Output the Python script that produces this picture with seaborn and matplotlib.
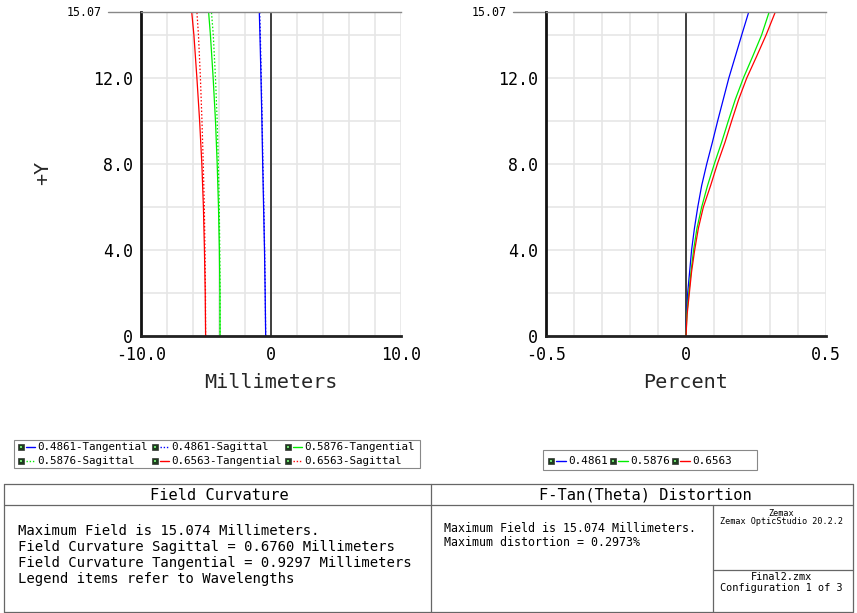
import numpy as np
import pandas as pd
import matplotlib
matplotlib.use("Agg")
import matplotlib.pyplot as plt
import matplotlib.transforms as mtransforms
from matplotlib.patches import Rectangle
from matplotlib.lines import Line2D
import seaborn as sns

# ---------------- data ----------------
field_y = [0, 2, 4, 6, 8, 10, 12, 14, 15.07]
fc_4861_tan = [-0.41, -0.45, -0.50, -0.57, -0.64, -0.70, -0.77, -0.85, -0.90]
fc_4861_sag = [-0.41, -0.44, -0.49, -0.55, -0.62, -0.68, -0.75, -0.82, -0.87]
fc_5876_tan = [-3.92, -3.93, -3.97, -4.04, -4.14, -4.27, -4.45, -4.66, -4.80]
fc_5876_sag = [-3.92, -3.92, -3.94, -3.98, -4.05, -4.14, -4.27, -4.44, -4.58]
fc_6563_tan = [-5.03, -5.06, -5.12, -5.20, -5.32, -5.49, -5.70, -5.93, -6.10]
fc_6563_sag = [-5.03, -5.04, -5.08, -5.13, -5.21, -5.31, -5.43, -5.58, -5.70]

dist_y = [0, 1, 2, 3, 4, 5, 6, 7, 8, 9, 10, 11, 12, 13, 14, 15.07]
dist_4861 = [0.0, 0.002, 0.006, 0.013, 0.020, 0.030, 0.042, 0.056, 0.074, 0.094,
             0.113, 0.133, 0.153, 0.176, 0.199, 0.224]
dist_5876 = [0.0, 0.003, 0.010, 0.018, 0.027, 0.039, 0.056, 0.077, 0.101, 0.127,
             0.151, 0.176, 0.205, 0.238, 0.270, 0.297]
dist_6563 = [0.0, 0.004, 0.012, 0.020, 0.031, 0.044, 0.062, 0.088, 0.112, 0.139,
             0.163, 0.188, 0.217, 0.252, 0.286, 0.319]

wavelengths = ["0.4861", "0.5876", "0.6563"]
wave_colors = ["#0000ff", "#00ee00", "#ff0000"]

fc_xticks = [-10, 0, 10]
fc_xticklabels = ["-10.0", "0", "10.0"]
dist_xticks = [-0.5, 0, 0.5]
dist_xticklabels = ["-0.5", "0", "0.5"]
yticks = [0, 4, 8, 12]
yticklabels = ["0", "4.0", "8.0", "12.0"]
field_max = 15.07

header_left = "Field Curvature"
header_right = "F-Tan(Theta) Distortion"
fc_text = ["Maximum Field is 15.074 Millimeters.",
           "Field Curvature Sagittal = 0.6760 Millimeters",
           "Field Curvature Tangential = 0.9297 Millimeters",
           "Legend items refer to Wavelengths"]
dist_text = ["Maximum Field is 15.074 Millimeters.",
             "Maximum distortion = 0.2973%"]
zemax_text = ["Zemax", "Zemax OpticStudio 20.2.2"]
file_text = ["Final2.zmx", "Configuration 1 of 3"]

# ---------------- style ----------------
sns.set_theme(style="white")
plt.rcParams["font.family"] = ["DejaVu Sans Mono", "DejaVu Sans"]
plt.rcParams["text.color"] = "black"

W, H = 857, 613
fig = plt.figure(figsize=(W / 100, H / 100), dpi=100)
fig.patch.set_facecolor("white")


def fx(px):
    return px / W


def fy(py):
    return 1 - py / H


ax_bottom_px, ax_top_px = 336, 12
ax1 = fig.add_axes([fx(141), fy(ax_bottom_px), 260 / W, (ax_bottom_px - ax_top_px) / H])
ax2 = fig.add_axes([fx(546), fy(ax_bottom_px), 280 / W, (ax_bottom_px - ax_top_px) / H])

# Field curvature long-form data
rows = []
fc_series = [
    (fc_4861_tan, "0.4861", "Tangential"), (fc_4861_sag, "0.4861", "Sagittal"),
    (fc_5876_tan, "0.5876", "Tangential"), (fc_5876_sag, "0.5876", "Sagittal"),
    (fc_6563_tan, "0.6563", "Tangential"), (fc_6563_sag, "0.6563", "Sagittal"),
]
for vals, wl, kind in fc_series:
    for xv, yv in zip(vals, field_y):
        rows.append({"x": xv, "y": yv, "wl": wl, "kind": kind})
fc_df = pd.DataFrame(rows)

drows = []
for vals, wl in zip([dist_4861, dist_5876, dist_6563], wavelengths):
    for xv, yv in zip(vals, dist_y):
        drows.append({"x": xv, "y": yv, "wl": wl})
dist_df = pd.DataFrame(drows)

dotted = (1.2, 1.6)
for wl, col in zip(wavelengths, wave_colors):
    sub = fc_df[(fc_df.wl == wl) & (fc_df.kind == "Tangential")]
    sns.lineplot(data=sub, x="x", y="y", ax=ax1, color=col, lw=0.9,
                 estimator=None, sort=False, legend=False)
    sub = fc_df[(fc_df.wl == wl) & (fc_df.kind == "Sagittal")]
    sns.lineplot(data=sub, x="x", y="y", ax=ax1, color=col, lw=0.9,
                 estimator=None, sort=False, legend=False)
    ax1.lines[-1].set_dashes(dotted)
    dsub = dist_df[dist_df.wl == wl]
    sns.lineplot(data=dsub, x="x", y="y", ax=ax2, color=col, lw=0.9,
                 estimator=None, sort=False, legend=False)

grid_col = "#e6e6e6"
for ax, xl, xt, xtl, xminor, lab in [
    (ax1, (-10, 10), fc_xticks, fc_xticklabels, np.arange(-8, 9, 2), "Millimeters"),
    (ax2, (-0.5, 0.5), dist_xticks, dist_xticklabels, np.arange(-0.4, 0.41, 0.1), "Percent"),
]:
    ax.set_xlim(*xl)
    ax.set_ylim(0, field_max)
    ax.set_xticks(xt)
    ax.set_xticklabels(xtl)
    ax.set_xticks(xminor, minor=True)
    ax.set_yticks(yticks)
    ax.set_yticklabels(yticklabels)
    ax.set_yticks(np.arange(2, 15, 2), minor=True)
    ax.grid(True, which="both", color=grid_col, lw=1.2)
    ax.set_axisbelow(True)
    ax.tick_params(axis="both", which="both", length=0, labelsize=12, colors="black")
    ax.tick_params(axis="y", pad=6)
    ax.tick_params(axis="x", pad=7.5)
    ax.axvline(0, color="#111111", lw=1.1, zorder=1.5)
    ax.spines["right"].set_visible(False)
    ax.spines["top"].set_color("#888888")
    ax.spines["top"].set_linewidth(1.0)
    ax.spines["left"].set_color("#111111")
    ax.spines["left"].set_linewidth(2.0)
    ax.spines["bottom"].set_color("#222222")
    ax.spines["bottom"].set_linewidth(2.0)
    ax.set_xlabel(lab, fontsize=14.5)
    ax.xaxis.set_label_coords(0.5, -46 / 324)
    ax.xaxis.label.set_va("center")
    ax.set_ylabel("")
    # top tick for max field
    trans = mtransforms.blended_transform_factory(ax.transAxes, ax.transData)
    ax.plot([-33 / ax.bbox.width, 0], [field_max, field_max],
            transform=trans, color="#888888", lw=1.0, clip_on=False)
    ax.annotate(f"{field_max:.2f}", xy=(0, field_max), xycoords=trans,
                xytext=(-39 * 0.72, 0), textcoords="offset points",
                ha="right", va="center", fontsize=8.4)

ax1.set_ylabel("+Y", fontsize=14.5)
ax1.yaxis.set_label_coords(-98 / 260, 0.503)
ax1.yaxis.label.set_va("center")

# ---------------- legends ----------------
def icon(xp, yp):
    fig.add_artist(Rectangle((fx(xp), fy(yp + 3)), 6 / W, 6 / H, transform=fig.transFigure,
                             facecolor="#1e3d1e", edgecolor="#333333", lw=0.5))
    fig.add_artist(Rectangle((fx(xp + 1.6), fy(yp + 1.4)), 2.8 / W, 2.8 / H,
                             transform=fig.transFigure, facecolor="#6fdc6f", edgecolor="none"))


def entry(xp, yp, color, dashed, label, lx0, lx1, tx, fs):
    icon(xp, yp)
    ln = Line2D([fx(lx0), fx(lx1)], [fy(yp), fy(yp)], transform=fig.transFigure,
                color=color, lw=1.0)
    if dashed:
        ln.set_dashes((1, 1.3))
    fig.add_artist(ln)
    fig.text(fx(tx), fy(yp), label, fontsize=fs, va="center", ha="left")


fig.add_artist(Rectangle((fx(14), fy(468)), 406 / W, 28 / H, transform=fig.transFigure,
                         facecolor="white", edgecolor="#888888", lw=0.8))
leg_items = []
for wl, col in zip(wavelengths, wave_colors):
    leg_items.append((col, False, f"{wl}-Tangential"))
    leg_items.append((col, True, f"{wl}-Sagittal"))
col_x = [18, 152, 285]
row_y = [447, 461]
for i, (col, dashed, lab) in enumerate(leg_items):
    r, c = divmod(i, 3)
    xp = col_x[c]
    entry(xp, row_y[r], col, dashed, lab, xp + 8, xp + 17, xp + 19, 7.8)

fig.add_artist(Rectangle((fx(543), fy(470)), 214 / W, 20 / H, transform=fig.transFigure,
                         facecolor="white", edgecolor="#888888", lw=0.8))
for xp, wl, col in zip([548, 610, 672], wavelengths, wave_colors):
    entry(xp, 461, col, False, wl, xp + 8, xp + 18, xp + 20, 7.9)

# ---------------- info table ----------------
lc = "#666666"


def hline(x0, x1, y):
    fig.add_artist(Line2D([fx(x0), fx(x1)], [fy(y), fy(y)], transform=fig.transFigure,
                          color=lc, lw=0.9))


def vline(x, y0, y1):
    fig.add_artist(Line2D([fx(x), fx(x)], [fy(y0), fy(y1)], transform=fig.transFigure,
                          color=lc, lw=0.9))


hline(4, 853, 484)
hline(4, 853, 505)
hline(4, 853, 612)
hline(713, 853, 570)
vline(4, 484, 612)
vline(853, 484, 612)
vline(431, 484, 612)
vline(713, 505, 612)

fig.text(fx(219), fy(495), header_left, fontsize=11.1, ha="center", va="center")
fig.text(fx(645), fy(495), header_right, fontsize=11.1, ha="center", va="center")
for i, t in enumerate(fc_text):
    fig.text(fx(18), fy(531 + 16 * i), t, fontsize=10, ha="left", va="center")
for i, t in enumerate(dist_text):
    fig.text(fx(444), fy(528 + 14 * i), t, fontsize=8.4, ha="left", va="center")
fig.text(fx(781), fy(514), zemax_text[0], fontsize=6.1, ha="center", va="center")
fig.text(fx(781), fy(522), zemax_text[1], fontsize=6.1, ha="center", va="center")
fig.text(fx(781), fy(577), file_text[0], fontsize=7.4, ha="center", va="center")
fig.text(fx(781), fy(588), file_text[1], fontsize=7.4, ha="center", va="center")

fig.savefig("out.png", dpi=100, facecolor="white")
